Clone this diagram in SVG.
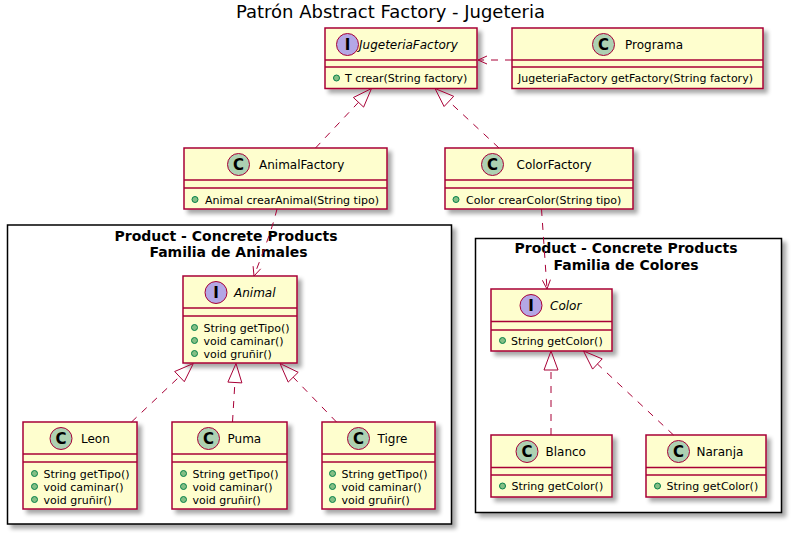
<svg xmlns="http://www.w3.org/2000/svg" width="793" height="535" viewBox="0 0 793 535">
<defs>
<filter id="sh" x="-10%" y="-10%" width="130%" height="130%">
<feGaussianBlur in="SourceAlpha" stdDeviation="2" result="b"/>
<feOffset in="b" dx="4" dy="4" result="o"/>
<feComponentTransfer in="o" result="s"><feFuncA type="linear" slope="0.35"/></feComponentTransfer>
<feMerge><feMergeNode in="s"/><feMergeNode in="SourceGraphic"/></feMerge>
</filter>
</defs>
<style>
text{font-family:"DejaVu Sans","Liberation Sans",sans-serif;fill:#000}
.title{font-size:18px}
.pkgbg{fill:#fff;stroke:#000;stroke-width:1.5}
.ptitle{font-size:14px;font-weight:bold;text-anchor:middle}
.box{fill:#FEFECE;stroke:#A80036;stroke-width:1.5}
.sep{stroke:#A80036;stroke-width:1.5}
.cc{fill:#ADD1B2;stroke:#A80036;stroke-width:1}
.ci{fill:#B4A7E5;stroke:#A80036;stroke-width:1}
.letter{font-size:15px;font-weight:bold;text-anchor:middle}
.name{font-size:12px}
.iname{font-size:12px;font-style:italic}
.mem{font-size:11px}
.pub{fill:#84BE84;stroke:#038048;stroke-width:1}
.e{fill:none;stroke:#A80036;stroke-width:1;stroke-dasharray:7,7}
.ah{fill:none;stroke:#A80036;stroke-width:1}
.tri{fill:none;stroke:#A80036;stroke-width:1}
</style>
<rect width="793" height="535" fill="#fff"/>
<text class="title" x="390.5" y="17.5" text-anchor="middle">Patrón Abstract Factory - Jugeteria</text>

<g id="pkg-animales">
<rect class="pkgbg" x="7.5" y="225" width="444" height="299" filter="url(#sh)"/>
<text class="ptitle" x="226" y="241">Product - Concrete Products</text>
<text class="ptitle" x="228.5" y="257">Familia de Animales</text>
</g>
<g id="pkg-colores">
<rect class="pkgbg" x="475.5" y="238.5" width="306" height="274" filter="url(#sh)"/>
<text class="ptitle" x="626" y="252.5">Product - Concrete Products</text>
<text class="ptitle" x="626" y="269.5">Familia de Colores</text>
</g>

<g id="JugeteriaFactory">
<rect class="box" x="325" y="28" width="152" height="60.5" filter="url(#sh)"/>
<line class="sep" x1="325" y1="60" x2="477" y2="60"/>
<line class="sep" x1="325" y1="67" x2="477" y2="67"/>
<circle class="ci" cx="347.5" cy="44.5" r="11"/>
<text class="letter" x="347.5" y="50">I</text>
<text class="iname" x="359" y="49">JugeteriaFactory</text>
<circle class="pub" cx="336.5" cy="78" r="3"/>
<text class="mem" x="345" y="82">T crear(String factory)</text>
</g>

<g id="Programa">
<rect class="box" x="512" y="28" width="251" height="60.5" filter="url(#sh)"/>
<line class="sep" x1="512" y1="60" x2="763" y2="60"/>
<line class="sep" x1="512" y1="67" x2="763" y2="67"/>
<circle class="cc" cx="603.5" cy="44.5" r="11"/>
<text class="letter" x="603.5" y="50">C</text>
<text class="name" x="625" y="49">Programa</text>
<text class="mem" x="518" y="82">JugeteriaFactory getFactory(String factory)</text>
</g>

<g id="AnimalFactory">
<rect class="box" x="184" y="148" width="203" height="61" filter="url(#sh)"/>
<line class="sep" x1="184" y1="180" x2="387" y2="180"/>
<line class="sep" x1="184" y1="188" x2="387" y2="188"/>
<circle class="cc" cx="238.5" cy="164.5" r="11"/>
<text class="letter" x="238.5" y="170">C</text>
<text class="name" x="259" y="169">AnimalFactory</text>
<circle class="pub" cx="195" cy="199.5" r="3"/>
<text class="mem" x="205" y="203.5">Animal crearAnimal(String tipo)</text>
</g>

<g id="ColorFactory">
<rect class="box" x="445" y="148" width="188" height="61" filter="url(#sh)"/>
<line class="sep" x1="445" y1="180" x2="633" y2="180"/>
<line class="sep" x1="445" y1="188" x2="633" y2="188"/>
<circle class="cc" cx="492.5" cy="164.5" r="11"/>
<text class="letter" x="492.5" y="170">C</text>
<text class="name" x="516.5" y="169">ColorFactory</text>
<circle class="pub" cx="456" cy="199.5" r="3"/>
<text class="mem" x="466" y="203.5">Color crearColor(String tipo)</text>
</g>

<g id="Animal">
<rect class="box" x="183" y="276" width="114" height="87" filter="url(#sh)"/>
<line class="sep" x1="183" y1="308" x2="297" y2="308"/>
<line class="sep" x1="183" y1="316" x2="297" y2="316"/>
<circle class="ci" cx="216" cy="292.5" r="11"/>
<text class="letter" x="216" y="298">I</text>
<text class="iname" x="234" y="297">Animal</text>
<circle class="pub" cx="194.5" cy="327.5" r="3"/>
<text class="mem" x="203.5" y="331.5">String getTipo()</text>
<circle class="pub" cx="194.5" cy="340.5" r="3"/>
<text class="mem" x="203.5" y="344.5">void caminar()</text>
<circle class="pub" cx="194.5" cy="353.5" r="3"/>
<text class="mem" x="203.5" y="357.5">void gruñir()</text>
</g>

<g id="Leon">
<rect class="box" x="23" y="422" width="114" height="87" filter="url(#sh)"/>
<line class="sep" x1="23" y1="454" x2="137" y2="454"/>
<line class="sep" x1="23" y1="462" x2="137" y2="462"/>
<circle class="cc" cx="61" cy="438.5" r="11"/>
<text class="letter" x="61" y="444">C</text>
<text class="name" x="81" y="443">Leon</text>
<circle class="pub" cx="34.5" cy="473.5" r="3"/>
<text class="mem" x="43.5" y="477.5">String getTipo()</text>
<circle class="pub" cx="34.5" cy="486.5" r="3"/>
<text class="mem" x="43.5" y="490.5">void caminar()</text>
<circle class="pub" cx="34.5" cy="499.5" r="3"/>
<text class="mem" x="43.5" y="503.5">void gruñir()</text>
</g>

<g id="Puma">
<rect class="box" x="172" y="422" width="115" height="87" filter="url(#sh)"/>
<line class="sep" x1="172" y1="454" x2="287" y2="454"/>
<line class="sep" x1="172" y1="462" x2="287" y2="462"/>
<circle class="cc" cx="208.5" cy="438.5" r="11"/>
<text class="letter" x="208.5" y="444">C</text>
<text class="name" x="227.5" y="443">Puma</text>
<circle class="pub" cx="183.5" cy="473.5" r="3"/>
<text class="mem" x="192.5" y="477.5">String getTipo()</text>
<circle class="pub" cx="183.5" cy="486.5" r="3"/>
<text class="mem" x="192.5" y="490.5">void caminar()</text>
<circle class="pub" cx="183.5" cy="499.5" r="3"/>
<text class="mem" x="192.5" y="503.5">void gruñir()</text>
</g>

<g id="Tigre">
<rect class="box" x="322" y="422" width="113" height="87" filter="url(#sh)"/>
<line class="sep" x1="322" y1="454" x2="435" y2="454"/>
<line class="sep" x1="322" y1="462" x2="435" y2="462"/>
<circle class="cc" cx="358.5" cy="438.5" r="11"/>
<text class="letter" x="358.5" y="444">C</text>
<text class="name" x="377.5" y="443">Tigre</text>
<circle class="pub" cx="332.5" cy="473.5" r="3"/>
<text class="mem" x="341.5" y="477.5">String getTipo()</text>
<circle class="pub" cx="332.5" cy="486.5" r="3"/>
<text class="mem" x="341.5" y="490.5">void caminar()</text>
<circle class="pub" cx="332.5" cy="499.5" r="3"/>
<text class="mem" x="341.5" y="503.5">void gruñir()</text>
</g>

<g id="Color">
<rect class="box" x="491" y="289" width="121" height="62" filter="url(#sh)"/>
<line class="sep" x1="491" y1="321.5" x2="612" y2="321.5"/>
<line class="sep" x1="491" y1="330" x2="612" y2="330"/>
<circle class="ci" cx="531" cy="305.5" r="11"/>
<text class="letter" x="531" y="311">I</text>
<text class="iname" x="550" y="310">Color</text>
<circle class="pub" cx="502.5" cy="340.5" r="3"/>
<text class="mem" x="511" y="344.5">String getColor()</text>
</g>

<g id="Blanco">
<rect class="box" x="491" y="435" width="121" height="62" filter="url(#sh)"/>
<line class="sep" x1="491" y1="467.5" x2="612" y2="467.5"/>
<line class="sep" x1="491" y1="475" x2="612" y2="475"/>
<circle class="cc" cx="527" cy="451.5" r="11"/>
<text class="letter" x="527" y="457">C</text>
<text class="name" x="545.5" y="456">Blanco</text>
<circle class="pub" cx="502.5" cy="486" r="3"/>
<text class="mem" x="511.5" y="490">String getColor()</text>
</g>

<g id="Naranja">
<rect class="box" x="646" y="435" width="120" height="62" filter="url(#sh)"/>
<line class="sep" x1="646" y1="467.5" x2="766" y2="467.5"/>
<line class="sep" x1="646" y1="475" x2="766" y2="475"/>
<circle class="cc" cx="678.5" cy="451.5" r="11"/>
<text class="letter" x="678.5" y="457">C</text>
<text class="name" x="696.5" y="456">Naranja</text>
<circle class="pub" cx="657.5" cy="486" r="3"/>
<text class="mem" x="666.5" y="490">String getColor()</text>
</g>

<g id="connectors">
<line class="e" x1="512" y1="60" x2="478" y2="60"/>
<polyline class="ah" points="487,56 478,60 487,64"/>
<line class="e" x1="315.5" y1="148" x2="358.5" y2="102.3"/>
<polygon class="tri" points="371.5,88.5 363.6,107.1 353.4,97.5"/>
<line class="e" x1="499" y1="148" x2="448.9" y2="101.4"/>
<polygon class="tri" points="435,88.5 453.7,96.3 444.1,106.5"/>
<path class="e" d="M277,209 C272,230 262,255 254,276"/>
<polyline class="ah" points="260.7,268.8 254,276 253.1,266.2"/>
<line class="e" x1="541.5" y1="209" x2="547" y2="289"/>
<polyline class="ah" points="550.4,279.7 547,289 542.4,280.3"/>
<line class="e" x1="131.5" y1="422" x2="179.5" y2="376.6"/>
<polygon class="tri" points="193.3,363.5 184.3,381.7 174.7,371.5"/>
<line class="e" x1="232.5" y1="422" x2="234.9" y2="382.5"/>
<polygon class="tri" points="236,363.5 241.9,382.9 227.9,382.1"/>
<line class="e" x1="336.5" y1="422" x2="293.2" y2="377.2"/>
<polygon class="tri" points="280,363.5 298.2,372.3 288.2,382.1"/>
<line class="e" x1="551" y1="435" x2="551" y2="370"/>
<polygon class="tri" points="551,351 558,370 544,370"/>
<line class="e" x1="673.5" y1="435" x2="597.4" y2="364"/>
<polygon class="tri" points="583.5,351 602.2,358.9 592.6,369.1"/>
</g>
</svg>
